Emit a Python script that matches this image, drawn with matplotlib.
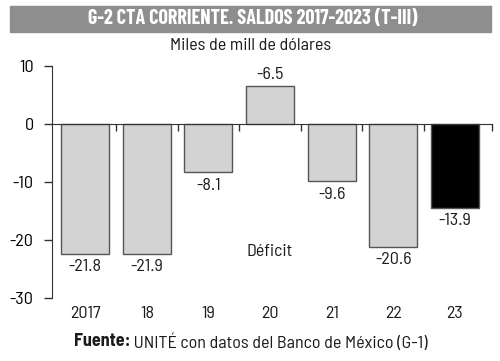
import matplotlib
matplotlib.use("Agg")
import matplotlib.pyplot as plt
import matplotlib.transforms as mtransforms

# Data (bar lengths, printed labels as shown)
years = ["2017", "18", "19", "20", "21", "22", "23"]
values = [-22.4, -22.4, -8.4, 6.5, -9.9, -21.2, -14.5]
value_labels = ["-21.8", "-21.9", "-8.1", "-6.5", "-9.6", "-20.6", "-13.9"]
bar_colors = ["#d3d3d3"] * 6 + ["#000000"]

plt.rcParams["font.family"] = ["Barlow Semi Condensed", "DejaVu Sans"]
plt.rcParams["font.stretch"] = "condensed"
plt.rcParams["text.color"] = "#1a1a1a"
title_font = ["Barlow Condensed", "DejaVu Sans"]

W, H = 500, 361
fig = plt.figure(figsize=(W / 100, H / 100), dpi=100)

# Axes box in pixels
left, right, top, bottom = 51.7, 491.7, 65.7, 297.7
ax = fig.add_axes([left / W, 1 - bottom / H, (right - left) / W, (bottom - top) / H])

x = list(range(len(years)))
ax.bar(x, values, width=0.78, color=bar_colors, edgecolor="#555555", linewidth=1.0, zorder=2)

ax.set_xlim(-0.545, 6.6)
ax.set_ylim(-30, 10)

# Spines
ax.spines["top"].set_visible(False)
ax.spines["right"].set_visible(False)
ax.spines["left"].set_color("#333333")
ax.spines["bottom"].set_position(("data", 0))
ax.spines["bottom"].set_color("#333333")
ax.spines["bottom"].set_zorder(3)

ax.set_yticks([10, 0, -10, -20, -30])
ax.set_yticklabels(["10", "0", "-10", "-20", "-30"])
ax.tick_params(axis="y", length=6, width=1, color="#333333", pad=7, labelsize=13)

ax.set_xticks([0.5, 1.5, 2.5, 3.5, 4.5, 5.5, 6.6])
ax.set_xticklabels([])
ax.tick_params(axis="x", direction="out", length=5, width=1, color="#333333")

# Value labels
for xi, v, lab in zip(x, values, value_labels):
    if v >= 0:
        ax.annotate(lab, (xi, v), xytext=(0, 3), textcoords="offset points",
                    ha="center", va="bottom", fontsize=13)
    else:
        ax.annotate(lab, (xi, v), xytext=(0, -4), textcoords="offset points",
                    ha="center", va="top", fontsize=13)

# Year labels under the plot
trans = mtransforms.blended_transform_factory(ax.transData, ax.transAxes)
for xi, yr in zip(x, years):
    ax.text(xi, -0.066, yr, transform=trans, ha="center", va="center", fontsize=13)

ax.text(3, -22.0, "Déficit", ha="center", va="center", fontsize=13)

# Title band
fig.patches.append(plt.Rectangle((10 / W, 1 - 31.7 / H), 481 / W, 25.7 / H,
                                 transform=fig.transFigure, color="#8e8e8e", zorder=0))
fig.text(253 / W, 1 - 19 / H, "G-2 CTA CORRIENTE. SALDOS 2017-2023 (T-III)",
         ha="center", va="center", fontsize=14.5, fontweight="bold", color="white",
         family=title_font)
fig.text(251 / W, 1 - 46 / H, "Miles de mill de dólares", ha="center", va="center", fontsize=13)

# Source line: bold "Fuente:" + regular rest, centred together
fy = 1 - 342 / H
t1 = fig.text(0, fy, "Fuente:", ha="left", va="center", fontsize=13, fontweight="bold")
t2 = fig.text(0, fy, " UNITÉ con datos del Banco de México (G-1)", ha="left", va="center", fontsize=13)
fig.canvas.draw()
r = fig.canvas.get_renderer()
w1 = t1.get_window_extent(r).width
w2 = t2.get_window_extent(r).width
x0 = 251 - (w1 + w2) / 2
t1.set_x(x0 / W)
t2.set_x((x0 + w1) / W)

fig.savefig("out.png", dpi=100)
